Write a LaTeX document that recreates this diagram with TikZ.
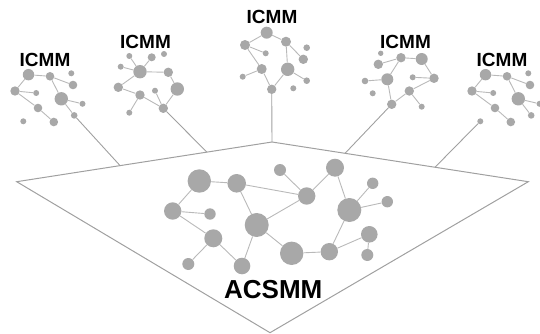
\documentclass[tikz,border=0pt]{standalone}
\usepackage{fontspec}
\setmainfont{Liberation Sans}
\usetikzlibrary{calc}
\definecolor{dotgray}{RGB}{168,168,168}
\definecolor{edgegray}{RGB}{185,185,185}
\definecolor{framegray}{RGB}{160,160,160}
\tikzset{
  dot/.style={circle,fill=dotgray,draw=none,inner sep=0pt,minimum size=#1},
  link/.style={draw=edgegray,line width=0.9pt},
  frame/.style={draw=framegray,line width=1pt,line join=miter},
  stem/.style={draw=framegray,line width=0.9pt},
  small label/.style={font=\bfseries\fontsize{19}{19}\selectfont,inner sep=0pt,anchor=base},
  big label/.style={font=\bfseries\fontsize{26}{26}\selectfont,inner sep=0pt,anchor=base},
}
% one small network with its label; #1 = name prefix
\newcommand{\ctree}[1]{%
  \node[small label] (#1lab) at (45,66.7) {ICMM};
  \node[dot=11.4pt] (#1a) at (28.5,74.7) {};
  \node[dot=8.6pt]  (#1b) at (50,76.3) {};
  \node[dot=6pt]    (#1c) at (71.3,73.3) {};
  \node[dot=8.6pt]  (#1d) at (73,85) {};
  \node[dot=9.4pt]  (#1e) at (15,91) {};
  \node[dot=6pt]    (#1f) at (36.2,93) {};
  \node[dot=13.4pt] (#1g) at (61.3,98.8) {};
  \node[dot=6pt]    (#1h) at (82.5,103.8) {};
  \node[dot=8.6pt]  (#1i) at (38,108) {};
  \node[dot=6.6pt]  (#1j) at (74.2,115.4) {};
  \node[dot=6pt]    (#1k) at (23.3,121.3) {};
  \node[dot=8.6pt]  (#1l) at (53.8,122) {};
  \draw[link] (#1a) -- (#1b) (#1b) -- (#1d) (#1a) -- (#1e) (#1e) -- (#1f)
              (#1e) -- (#1i) (#1b) -- (#1g) (#1g) -- (#1h) (#1g) -- (#1j)
              (#1i) -- (#1l);
}
\begin{document}
\begin{tikzpicture}[x=1pt,y=-1pt]
\useasboundingbox (0,0) rectangle (540,334);

% the large frame
\coordinate (L) at (16.7,181.7);
\coordinate (T) at (272,142);
\coordinate (R) at (528.3,181.7);
\coordinate (B) at (270,332.7);
\draw[frame] (L) -- (T) -- (R) -- (B) -- cycle;

% central network
\node[dot=23.4pt] (A) at (199.3,181) {};
\node[dot=18.6pt] (Bn) at (236.7,183.3) {};
\node[dot=12pt]   (C) at (280,170) {};
\node[dot=18pt]   (D) at (335,167.7) {};
\node[dot=17.4pt] (E) at (306.7,196) {};
\node[dot=11.4pt] (F) at (372.7,183.3) {};
\node[dot=11.4pt] (G) at (387.3,201.7) {};
\node[dot=24pt]   (H) at (349.3,210) {};
\node[dot=17.4pt] (I) at (172.7,211) {};
\node[dot=11.4pt] (J) at (210,214) {};
\node[dot=24pt]   (K) at (256.7,225) {};
\node[dot=18pt]   (Ln) at (213.3,238.3) {};
\node[dot=16.6pt] (M) at (369.3,234.3) {};
\node[dot=23.4pt] (N) at (291.7,253.3) {};
\node[dot=17.4pt] (O) at (329.3,251.7) {};
\node[dot=12pt]   (P) at (367.3,255) {};
\node[dot=12pt]   (Q) at (188.3,264) {};
\node[dot=16.6pt] (Rn) at (242,266) {};
\draw[link] (A) -- (Bn) (A) -- (I) (Bn) -- (E) (Bn) -- (K) (C) -- (E)
            (E) -- (D) (D) -- (H) (H) -- (F) (H) -- (G) (H) -- (O)
            (I) -- (J) (I) -- (Ln) (Ln) -- (Q) (Ln) -- (Rn) (K) -- (E)
            (K) -- (N) (K) -- (Rn) (N) -- (O) (O) -- (M) (M) -- (P);
\node[big label] (main) at (273.3,298.3) {ACSMM};

% left network
\ctree{u}
% right network
\begin{scope}[shift={(457,0)}]
  \ctree{v}
\end{scope}

% second network
\node[small label] (wlab) at (145.5,48.3) {ICMM};
\node[dot=6pt]    (w1) at (129.3,56) {};
\node[dot=8pt]    (w2) at (151.7,57.3) {};
\node[dot=6pt]    (w3) at (164,54) {};
\node[dot=6pt]    (w4) at (120.7,66.7) {};
\node[dot=13.4pt] (w5) at (140,71.7) {};
\node[dot=9.4pt]  (w6) at (168.3,72.3) {};
\node[dot=9.4pt]  (w7) at (118.3,87.3) {};
\node[dot=9.4pt]  (w8) at (140,95) {};
\node[dot=6pt]    (w9) at (155,90.7) {};
\node[dot=13.4pt] (w10) at (177.3,89) {};
\node[dot=9.4pt]  (w11) at (163.3,108.3) {};
\node[dot=6pt]    (w12) at (129.3,112.7) {};
\draw[link] (w1) -- (w5) (w2) -- (w5) (w4) -- (w5) (w5) -- (w6)
            (w6) -- (w10) (w5) -- (w7) (w7) -- (w8) (w8) -- (w11)
            (w9) -- (w11) (w10) -- (w11) (w12) -- (w8);

% middle network
\node[small label] (tlab) at (272,24) {ICMM};
\node[dot=12pt]   (t1) at (266.7,32.7) {};
\node[dot=10pt]   (t2) at (245,45) {};
\node[dot=10pt]   (t3) at (286,41.7) {};
\node[dot=6.6pt]  (t4) at (306.7,47.7) {};
\node[dot=6pt]    (t5) at (265.7,53.3) {};
\node[dot=9.4pt]  (t6) at (303.3,59.3) {};
\node[dot=10pt]   (t7) at (261.7,69) {};
\node[dot=13.4pt] (t8) at (287.7,69.3) {};
\node[dot=6pt]    (t9) at (242.7,76.7) {};
\node[dot=6.6pt]  (t10) at (306.7,80.7) {};
\node[dot=9.4pt]  (t11) at (271.7,89.3) {};
\node[dot=6pt]    (t12) at (293.3,88.3) {};
\draw[link] (t1) -- (t2) (t1) -- (t3) (t3) -- (t6) (t2) -- (t5)
            (t2) -- (t7) (t7) -- (t9) (t7) -- (t11) (t8) -- (t11)
            (t8) -- (t10) (t3) -- (t8);

% fourth network
\node[small label] (flab) at (405.5,48.3) {ICMM};
\node[dot=5.4pt]  (f1) at (380.7,53.3) {};
\node[dot=9.4pt]  (f2) at (378.3,64.3) {};
\node[dot=9.4pt]  (f3) at (401,57.7) {};
\node[dot=12pt]   (f4) at (421.7,59) {};
\node[dot=6.6pt]  (f5) at (365,81) {};
\node[dot=12pt]   (f6) at (387.3,79.3) {};
\node[dot=6pt]    (f7) at (412.7,77.3) {};
\node[dot=9.4pt]  (f8) at (434,78.3) {};
\node[dot=6pt]    (f9) at (372.7,93.3) {};
\node[dot=9.4pt]  (f10) at (409.3,91) {};
\node[dot=9.4pt]  (f11) at (391.7,104.3) {};
\node[dot=6pt]    (f12) at (421.7,106.7) {};
\draw[link] (f2) -- (f3) (f3) -- (f4) (f4) -- (f8) (f7) -- (f8)
            (f8) -- (f10) (f5) -- (f6) (f6) -- (f3) (f6) -- (f11)
            (f10) -- (f11) (f10) -- (f12);

% stems down to the frame
\coordinate (s1) at ($(L)!0.405!(T)$);
\coordinate (s2) at ($(L)!0.745!(T)$);
\coordinate (s4) at ($(T)!0.285!(R)$);
\coordinate (s5) at ($(T)!0.636!(R)$);
\draw[stem] (uj) -- (s1);
\draw[stem] (w11) -- (s2);
\draw[stem] (t11) -- (T);
\draw[stem] (f11) -- (s4);
\draw[stem] (vk) -- (s5);
\end{tikzpicture}
\end{document}
